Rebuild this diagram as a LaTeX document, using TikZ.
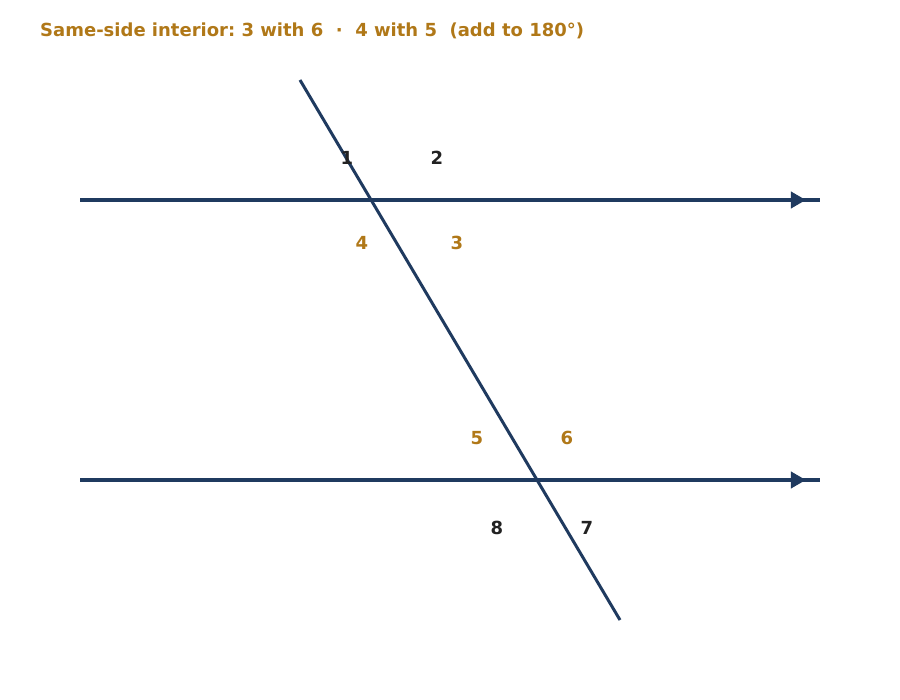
\documentclass[tikz,border=0pt]{standalone}
\usepackage{fontspec}
\setmainfont{DejaVu Sans}
\frenchspacing
\usetikzlibrary{decorations.markings,arrows.meta}
\definecolor{navy}{HTML}{1F3A5F}
\definecolor{gold}{HTML}{B07818}
\definecolor{ink}{HTML}{222222}
\tikzset{>=latex}
\tikzset{
  parallel/.style={
    navy, line width=4pt,
    decoration={markings, mark=at position 0.981 with {\arrow{Triangle[length=15pt,width=16pt]}}},
    postaction={decorate}
  },
  angle/.style={font=\bfseries\fontsize{18}{18}\selectfont, text=ink, inner sep=0pt},
  pair/.style={angle, text=gold}
}
\begin{document}
\begin{tikzpicture}[x=1pt,y=-1pt]
  \useasboundingbox (0,0) rectangle (900,700);
  \node[anchor=west, text=gold, font=\bfseries\fontsize{18}{18}\selectfont, inner sep=0pt]
    (title) at (40,31) {Same-side interior: 3 with 6 \ · \ 4 with 5 \ (add to 180°)};
  % parallel lines
  \coordinate (a1) at (80,200);  \coordinate (b1) at (820,200);
  \coordinate (a2) at (80,480);  \coordinate (b2) at (820,480);
  \draw[parallel] (a1) -- (b1);
  \draw[parallel] (a2) -- (b2);
  % transversal
  \coordinate (t1) at (300,80);  \coordinate (t2) at (620,620);
  \draw[navy, line width=3pt] (t1) -- (t2);
  % angle labels
  \node[angle] (n1) at (347,158) {1};
  \node[angle] (n2) at (437,158) {2};
  \node[pair]  (n3) at (457,243) {3};
  \node[pair]  (n4) at (362,243) {4};
  \node[pair]  (n5) at (477,438) {5};
  \node[pair]  (n6) at (567,438) {6};
  \node[angle] (n7) at (587,528) {7};
  \node[angle] (n8) at (497,528) {8};
\end{tikzpicture}
\end{document}
